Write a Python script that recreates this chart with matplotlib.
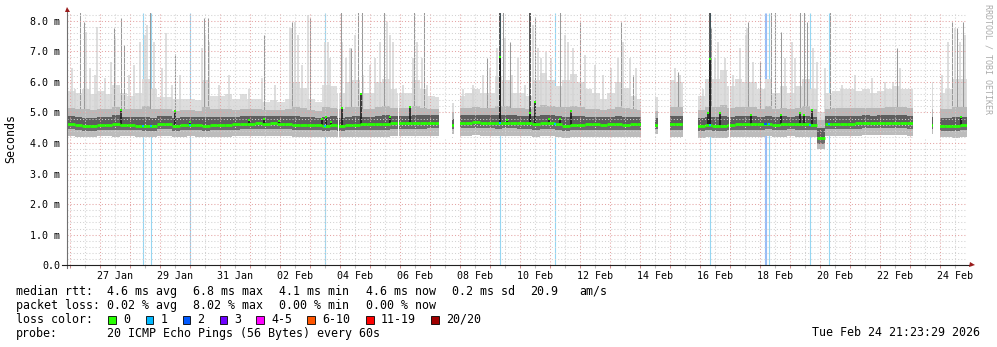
import numpy as np
import matplotlib
matplotlib.use("Agg")
import matplotlib.pyplot as plt
import matplotlib.dates as mdates
from matplotlib.patches import Rectangle
from matplotlib.ticker import MultipleLocator, FuncFormatter, NullFormatter
from datetime import datetime, date

plt.rcParams['font.family'] = ['DejaVu Sans Mono', 'DejaVu Sans']

nan = float('nan')

# ======== time frame: 30 days ending at the probe time ========
T_START = datetime(2026, 1, 25, 21, 23, 29)
SPAN_H = 720
BIN_H = 6          # smoke / median values are 6 h bins
Y_MAX = 8.24

# ======== median rtt per 6h bin (ms) ========
median_ms = [
    4.63, 4.60, 4.55, 4.56, 4.60, 4.60, 4.61, 4.60, 4.60, 4.57,
    4.55, 4.56, 4.63, 4.63, 4.55, 4.60, 4.60, 4.58, 4.56, 4.59,
    4.59, 4.59, 4.62, 4.63, 4.63, 4.64, 4.63, 4.64, 4.63, 4.63,
    4.59, 4.59, 4.59, 4.59, 4.57, 4.60, 4.56, 4.58, 4.58, 4.61,
    4.61, 4.61, 4.61, 4.64, 4.64, 4.64, 4.64, 4.65, 4.66, 4.66,
    nan, 4.60, 4.66, 4.66, 4.67, 4.66, 4.66, 4.65, 4.66, 4.66,
    4.65, 4.64, 4.62, 4.64, 4.64, 4.62, 4.57, 4.58, 4.60, 4.61,
    4.61, 4.60, 4.61, 4.61, 4.60, 4.61, 4.61, nan, 4.58, nan,
    4.61, 4.61, 4.61, nan, 4.57, 4.58, 4.56, 4.57, 4.60, 4.61,
    4.61, 4.61, 4.61, 4.62, 4.60, 4.61, 4.62, 4.61, 4.61, 4.60,
    4.15, 4.62, 4.63, 4.63, 4.63, 4.64, 4.65, 4.65, 4.66, 4.65,
    4.65, 4.65, 4.64, nan, nan, 4.60, 4.57, 4.57, 4.56, 4.58,
]

# ======== smoke levels per 6h bin (ms) ========
smoke_floor = [
    4.22, 4.21, 4.19, 4.20, 4.22, 4.22, 4.21, 4.22, 4.22, 4.20,
    4.19, 4.19, 4.23, 4.23, 4.18, 4.21, 4.22, 4.21, 4.20, 4.21,
    4.21, 4.21, 4.22, 4.23, 4.23, 4.23, 4.23, 4.23, 4.23, 4.23,
    4.20, 4.20, 4.21, 4.21, 4.18, 4.20, 4.18, 4.19, 4.19, 4.21,
    4.21, 4.21, 4.21, 4.23, 4.23, 4.23, 4.23, 4.24, 4.24, 4.24,
    nan, 4.30, 4.24, 4.24, 4.25, 4.24, 4.24, 4.23, 4.24, 4.24,
    4.23, 4.23, 4.21, 4.23, 4.23, 4.21, 4.17, 4.18, 4.20, 4.21,
    4.21, 4.20, 4.21, 4.21, 4.20, 4.21, 4.21, nan, 4.30, nan,
    4.21, 4.21, 4.21, nan, 4.17, 4.18, 4.16, 4.17, 4.20, 4.21,
    4.21, 4.21, 4.21, 4.22, 4.20, 4.21, 4.22, 4.21, 4.21, 4.20,
    3.80, 4.22, 4.23, 4.23, 4.23, 4.24, 4.25, 4.25, 4.26, 4.25,
    4.25, 4.25, 4.24, nan, nan, 4.30, 4.18, 4.18, 4.17, 4.19,
]
smoke_low = [
    4.45, 4.43, 4.39, 4.40, 4.43, 4.43, 4.44, 4.43, 4.43, 4.41,
    4.39, 4.40, 4.45, 4.45, 4.39, 4.43, 4.43, 4.42, 4.40, 4.42,
    4.42, 4.42, 4.44, 4.45, 4.45, 4.46, 4.45, 4.46, 4.45, 4.45,
    4.42, 4.42, 4.42, 4.42, 4.40, 4.43, 4.40, 4.41, 4.41, 4.44,
    4.44, 4.44, 4.44, 4.46, 4.46, 4.46, 4.46, 4.47, 4.48, 4.48,
    nan, 4.46, 4.48, 4.48, 4.49, 4.48, 4.48, 4.47, 4.48, 4.48,
    4.47, 4.46, 4.44, 4.46, 4.46, 4.44, 4.40, 4.41, 4.43, 4.44,
    4.44, 4.43, 4.44, 4.44, 4.43, 4.44, 4.44, nan, 4.45, nan,
    4.44, 4.44, 4.44, nan, 4.40, 4.41, 4.39, 4.40, 4.43, 4.44,
    4.44, 4.44, 4.44, 4.45, 4.43, 4.44, 4.45, 4.44, 4.44, 4.43,
    3.98, 4.45, 4.46, 4.46, 4.46, 4.47, 4.48, 4.48, 4.49, 4.48,
    4.48, 4.48, 4.47, nan, nan, 4.45, 4.40, 4.40, 4.39, 4.41,
]
smoke_dark = [
    4.88, 4.86, 4.82, 4.83, 4.86, 4.85, 4.90, 4.86, 4.85, 4.84,
    4.86, 4.83, 4.87, 4.87, 4.81, 4.85, 4.85, 4.84, 4.86, 4.84,
    4.84, 4.85, 4.86, 4.88, 4.87, 4.88, 4.87, 4.88, 4.87, 4.87,
    4.88, 4.86, 4.84, 4.83, 4.86, 4.87, 4.83, 4.86, 4.87, 4.86,
    4.86, 4.89, 4.90, 4.89, 4.89, 4.89, 4.91, 4.90, 4.90, 4.90,
    nan, 4.80, 4.90, 4.91, 4.92, 4.91, 4.91, 4.93, 4.92, 4.90,
    4.89, 4.88, 4.89, 4.92, 4.90, 4.88, 4.85, 4.88, 4.87, 4.86,
    4.86, 4.84, 4.86, 4.88, 4.86, 4.85, 4.85, nan, 4.82, nan,
    4.88, 4.87, 4.87, nan, 4.81, 4.85, 4.84, 4.88, 4.85, 4.87,
    4.87, 4.87, 4.86, 4.89, 4.85, 4.87, 4.86, 4.87, 4.89, 4.85,
    4.50, 4.87, 4.88, 4.88, 4.88, 4.89, 4.90, 4.89, 4.90, 4.90,
    4.91, 4.90, 4.89, nan, nan, 4.85, 4.82, 4.83, 4.86, 4.86,
]
smoke_grey = [
    5.15, 5.12, 5.10, 5.08, 5.12, 5.10, 5.18, 5.12, 5.10, 5.12,
    5.20, 5.12, 5.10, 5.10, 5.06, 5.08, 5.08, 5.06, 5.18, 5.10,
    5.10, 5.10, 5.08, 5.12, 5.10, 5.10, 5.08, 5.08, 5.08, 5.10,
    5.18, 5.14, 5.08, 5.06, 5.16, 5.15, 5.10, 5.16, 5.18, 5.12,
    5.12, 5.18, 5.20, 5.15, 5.14, 5.14, 5.20, 5.15, 5.12, 5.12,
    nan, 5.00, 5.14, 5.15, 5.16, 5.15, 5.15, 5.22, 5.20, 5.14,
    5.14, 5.12, 5.18, 5.25, 5.20, 5.16, 5.18, 5.22, 5.16, 5.12,
    5.12, 5.08, 5.12, 5.16, 5.14, 5.10, 5.08, nan, 5.05, nan,
    5.18, 5.16, 5.16, nan, 5.08, 5.18, 5.18, 5.25, 5.14, 5.18,
    5.16, 5.16, 5.12, 5.20, 5.10, 5.14, 5.12, 5.14, 5.20, 5.12,
    4.75, 5.12, 5.13, 5.14, 5.14, 5.14, 5.15, 5.14, 5.15, 5.16,
    5.18, 5.16, 5.15, nan, nan, 5.10, 5.10, 5.12, 5.18, 5.18,
]
smoke_top = [
    5.70, 5.65, 5.75, 5.60, 5.70, 5.60, 5.90, 5.65, 5.55, 5.65,
    6.10, 5.75, 5.50, 5.50, 5.45, 5.45, 5.45, 5.40, 6.05, 5.55,
    5.55, 5.60, 5.45, 5.60, 5.45, 5.45, 5.35, 5.40, 5.35, 5.45,
    6.00, 5.80, 5.45, 5.35, 5.90, 5.85, 5.65, 6.00, 6.05, 5.65,
    5.65, 6.00, 6.10, 5.75, 5.65, 5.65, 6.05, 5.75, 5.55, 5.50,
    nan, 5.30, 5.55, 5.65, 5.75, 5.65, 5.65, 6.20, 6.05, 5.65,
    5.65, 5.55, 6.05, 6.30, 6.05, 5.85, 6.05, 6.25, 6.00, 5.75,
    5.65, 5.45, 5.65, 6.00, 5.80, 5.55, 5.45, nan, 5.50, nan,
    6.05, 6.00, 6.00, nan, 5.55, 6.10, 6.10, 6.40, 5.85, 6.10,
    6.00, 6.00, 5.75, 6.10, 5.65, 5.85, 5.65, 5.85, 6.10, 5.75,
    5.00, 5.65, 5.70, 5.75, 5.75, 5.70, 5.75, 5.65, 5.70, 5.75,
    5.85, 5.75, 5.75, nan, nan, 6.00, 5.65, 5.75, 6.10, 6.10,
]

# ======== thin smoke columns: (hours since start, top ms) ========
light_cols = [
    (4.0, 6.44), (6.6, 5.78), (15.2, 7.64), (18.6, 6.44), (22.6, 6.22), (24.0, 7.80),
    (30.6, 6.11), (35.4, 6.66), (38.6, 7.42), (49.4, 6.22), (53.4, 6.55), (58.6, 7.31),
    (62.6, 7.53), (64.0, 7.86), (69.4, 7.31), (76.0, 6.44), (79.2, 7.60), (84.0, 5.89),
    (90.6, 6.22), (108.0, 7.09), (110.6, 7.53), (113.4, 7.31), (121.4, 5.89), (129.4, 6.22),
    (145.4, 5.78), (156.0, 6.11), (166.6, 5.89), (178.6, 7.75), (179.8, 7.75), (182.4, 7.97),
    (185.0, 7.53), (187.8, 6.55), (193.0, 8.18), (206.4, 7.31), (208.8, 7.31), (210.4, 6.77),
    (220.0, 7.31), (223.2, 6.77), (226.4, 7.09), (230.4, 7.53), (237.0, 6.22), (242.4, 6.55),
    (246.4, 6.77), (250.4, 7.31), (255.8, 7.97), (258.4, 7.53), (261.0, 7.31), (269.0, 5.89),
    (277.0, 6.77), (279.8, 7.31), (283.8, 6.77), (287.8, 5.89), (317.0, 5.78), (325.0, 5.89),
    (333.0, 6.22), (338.4, 6.44), (343.8, 7.09), (350.4, 7.42), (355.8, 6.22), (361.0, 6.77),
    (366.2, 5.89), (372.8, 7.86), (376.8, 7.09), (379.4, 6.77), (383.4, 6.98), (387.4, 6.77),
    (398.2, 7.53), (400.8, 7.31), (404.8, 7.09), (414.2, 6.87), (422.2, 6.55), (428.8, 6.22),
    (435.4, 6.44), (440.8, 6.77), (444.8, 7.31), (450.2, 6.77), (455.4, 6.44), (486.2, 6.44),
    (490.2, 6.22), (508.8, 5.78), (518.2, 6.77), (520.8, 7.31), (526.2, 6.77), (532.8, 6.22),
    (538.2, 7.09), (543.4, 7.53), (543.8, 7.75), (549.0, 6.66), (558.4, 5.78), (574.4, 6.77),
    (579.8, 7.31), (582.4, 6.77), (597.0, 7.09), (599.8, 6.66), (606.4, 6.44), (619.8, 5.89),
    (630.4, 6.22), (643.8, 6.11), (654.4, 6.00), (661.0, 6.00), (666.4, 6.44), (699.8, 6.22),
    (705.0, 7.31), (710.4, 7.75), (714.4, 7.31), (718.4, 7.53),
]
grey_cols = [
    (10.6, 8.30), (13.4, 7.97), (37.4, 7.75), (43.0, 8.10), (45.4, 7.20), (66.6, 8.30),
    (86.6, 6.90), (109.8, 8.07), (112.6, 8.07), (157.4, 7.53), (180.0, 7.97), (194.4, 8.10),
    (219.2, 8.30), (227.0, 7.09), (233.0, 8.30), (235.8, 8.30), (253.6, 8.30), (277.6, 8.30),
    (285.6, 8.30), (335.8, 6.77), (349.0, 8.30), (354.4, 7.31), (374.2, 8.13), (394.2, 8.30),
    (410.2, 7.97), (443.0, 7.97), (452.8, 6.22), (488.8, 6.33), (515.4, 7.75), (544.8, 7.97),
    (554.4, 6.66), (563.2, 8.30), (566.4, 8.30), (571.2, 7.64), (586.4, 8.30), (589.8, 8.30),
    (592.0, 7.97), (610.6, 8.30), (663.8, 7.09), (692.4, 7.20), (707.8, 7.97), (711.8, 7.75),
    (717.0, 7.97),
]
dark_cols = [(346.4, 8.30), (514.2, 8.30), (370.2, 8.30)]

# median peaks inside a bin: (hours, median ms)
median_peaks = [
    (43.0, 5.07), (86.4, 5.04), (98.2, 4.70), (145.8, 4.75), (157.8, 4.80), (169.8, 4.72),
    (203.8, 4.80), (207.2, 4.86), (211.0, 4.70), (219.8, 5.13), (235.0, 5.59), (258.4, 4.86),
    (274.4, 5.18), (346.4, 6.80), (352.2, 4.75), (370.2, 4.97), (374.2, 5.35), (385.6, 4.80),
    (394.2, 4.80), (403.4, 5.05), (512.8, 4.97), (514.2, 6.76), (522.2, 4.97), (547.2, 4.91),
    (571.2, 4.91), (586.4, 4.97), (589.4, 4.91), (595.8, 5.07), (715.0, 4.86),
]

# packet loss events: (hours, pings lost of 20)
loss_events = [
    (60.6, 1), (67.4, 1), (98.4, 1), (206.4, 1), (346.4, 1), (390.6, 1), (514.2, 1),
    (558.4, 2), (559.2, 2), (561.6, 1), (594.4, 1), (609.6, 1),
]

# periods without data: (start h, end h)
gaps_h = [
    (216.8, 218.0), (264.8, 266.0), (297.6, 308.0), (309.6, 314.4), (459.2, 470.4),
    (472.8, 482.4), (492.8, 504.8), (529.6, 530.4), (676.8, 692.0), (692.8, 698.4),
]

loss_names = ['0', '1', '2', '3', '4-5', '6-10', '11-19', '20/20']
loss_colors = ['#26ff00', '#00b8ff', '#0059ff', '#6e00ff', '#ff00ff', '#ff5500', '#ff0000', '#a00000']
loss_bar_colors = {1: '#94d6f2', 2: '#98bcf6'}

median_stats = ['4.6 ms avg', '6.8 ms max', '4.1 ms min', '4.6 ms now', '0.2 ms sd', '20.9', 'am/s']
loss_stats = ['0.02 % avg', '8.02 % max', '0.00 % min', '0.00 % now']
probe_text = '20 ICMP Echo Pings (56 Bytes) every 60s'
stamp_text = 'Tue Feb 24 21:23:29 2026'

T0NUM = mdates.date2num(T_START)


def tnum(h):
    return T0NUM + np.asarray(h, dtype=float) / 24.0


W, H = 997, 347
fig = plt.figure(figsize=(W / 100, H / 100), dpi=100)
fig.patch.set_facecolor('white')
ax = fig.add_axes([67 / W, (H - 265.3) / H, 900 / W, 252 / H])

n = len(median_ms)
x_left = tnum(np.arange(n) * BIN_H)
bw = BIN_H / 24.0
med = np.array(median_ms, float)


def band(lo, hi, color, z):
    lo = np.array(lo, float)
    hi = np.array(hi, float)
    ok = ~np.isnan(lo) & ~np.isnan(hi)
    ax.bar(x_left[ok], (hi - lo)[ok], bottom=lo[ok], width=bw, align='edge',
           color=color, linewidth=0, antialiased=False, zorder=z)


def med_at(h):
    return med[min(int(h // BIN_H), n - 1)]


# ======== loss bars (behind the smoke) ========
for h, lost in loss_events:
    ax.vlines(tnum(h), 0, Y_MAX, color=loss_bar_colors[lost], linewidth=0.8, zorder=0.9)

# ======== smoke ========
band(smoke_grey, smoke_top, '#dddddd', 1.0)
lc_h = [c[0] for c in light_cols]
ax.vlines(tnum(lc_h), [med_at(h) for h in lc_h], [c[1] for c in light_cols],
          color='#d4d4d4', linewidth=1.1, zorder=1.1)
gc_h = [c[0] for c in grey_cols]
ax.vlines(tnum(gc_h), [med_at(h) for h in gc_h], [c[1] for c in grey_cols],
          color='#999999', linewidth=0.75, zorder=1.2)
band(smoke_dark, smoke_grey, '#b9b9b9', 1.3)
band(med, smoke_dark, '#5e5e5e', 1.4)
band(smoke_low, med, '#6c6c6c', 1.4)
band(smoke_floor, smoke_low, '#bcbcbc', 1.4)

dc_h = [c[0] for c in dark_cols]
ax.vlines(tnum(dc_h), [med_at(h) for h in dc_h], [c[1] for c in dark_cols],
          color='#2a2a2a', linewidth=1.1, zorder=1.5)
pk_h = [p[0] for p in median_peaks]
pk_v = [p[1] for p in median_peaks]
ax.vlines(tnum(pk_h), [med_at(h) for h in pk_h], pk_v, color='#1a1a1a', linewidth=1.2, zorder=1.6)

# ======== empty periods ========
for a, b in gaps_h:
    ax.axvspan(tnum(a), tnum(b), color='white', linewidth=0, zorder=2.2)

# ======== median line (above grid) ========
ax.hlines(med, x_left, x_left + bw, color=loss_colors[0], linewidth=2.0, zorder=2.6,
          capstyle='butt')
ax.plot(tnum(pk_h), pk_v, linestyle='none', marker='s', markersize=2.0,
        markeredgewidth=0, color=loss_colors[0], zorder=2.65)
for h, lost in loss_events:
    ax.plot(tnum(h), med_at(h), linestyle='none', marker='s', markersize=2.0,
            markeredgewidth=0, color=loss_colors[lost], zorder=2.7)
# re-open the gaps over the median line
for a, b in gaps_h:
    ax.axvspan(tnum(a), tnum(b), ymin=0.5, ymax=0.6, color='white', linewidth=0, zorder=2.68)

# ======== axes, grid ========
ax.set_xlim(tnum(0), tnum(SPAN_H))
ax.set_ylim(0, Y_MAX)
for s in ax.spines.values():
    s.set_visible(False)
ax.set_axisbelow(False)

ax.xaxis.set_major_locator(mdates.DayLocator())
ax.xaxis.set_minor_locator(mdates.HourLocator(byhour=[12]))
ax.xaxis.set_major_formatter(NullFormatter())
first_label = date(2026, 1, 27)


def xlab(v, pos):
    d = mdates.num2date(v)
    if (d.date() - first_label).days % 2 == 0:
        return d.strftime('%d %b')
    return ''


ax.xaxis.set_minor_formatter(FuncFormatter(xlab))
ax.yaxis.set_major_locator(MultipleLocator(1.0))
ax.yaxis.set_minor_locator(MultipleLocator(0.2))
ax.yaxis.set_major_formatter(FuncFormatter(lambda v, p: '0.0' if abs(v) < 1e-9 else f'{v:.1f} m'))

ax.grid(True, which='major', color='#e4a4a4', linestyle=(0, (1, 2)), linewidth=0.75)
ax.grid(True, which='minor', color='#d2d2d2', linestyle=(0, (1, 2)), linewidth=0.75)
ax.tick_params(axis='x', which='major', length=1.8, color='#d08a8a', width=0.75)
ax.tick_params(axis='x', which='minor', length=1.8, color='#bdbdbd', width=0.75,
               pad=2.0, labelsize=7.2, labelcolor='#000000')
ax.tick_params(axis='y', which='major', length=0, pad=5.0, labelsize=7.2, labelcolor='#000000')
ax.tick_params(axis='y', which='minor', length=0)

# rrdtool style axes with arrow heads
ax.plot([0, 0], [-0.012, 1.01], transform=ax.transAxes, clip_on=False,
        color='#707070', linewidth=0.8, zorder=3)
ax.plot([-5 / 900, 1.004], [0, 0], transform=ax.transAxes, clip_on=False,
        color='#202020', linewidth=0.8, zorder=3)
ax.plot([0], [1.018], transform=ax.transAxes, clip_on=False, marker='^',
        markersize=3.6, color='#9a1c1c', markeredgewidth=0, zorder=3)
ax.plot([1.0055], [0], transform=ax.transAxes, clip_on=False, marker='>',
        markersize=3.6, color='#9a1c1c', markeredgewidth=0, zorder=3)

# ======== texts ========
FS = 8.4


def ftext(x, y, s, **kw):
    kw.setdefault('fontsize', FS)
    kw.setdefault('va', 'center')
    kw.setdefault('ha', 'left')
    fig.text(x / W, 1 - y / H, s, **kw)


ftext(11, 139, 'Seconds', rotation=90, ha='center')
ftext(987.5, 4, 'RRDTOOL / TOBI OETIKER', rotation=270, ha='center', va='top',
      fontsize=6.0, color='#ababab')

stat_x = [107, 193, 279, 366, 452, 530, 579]
ftext(16, 291.5, 'median rtt:')
for x, s in zip(stat_x, median_stats):
    ftext(x, 291.5, s)
ftext(16, 305.5, 'packet loss:')
for x, s in zip(stat_x, loss_stats):
    ftext(x, 305.5, s)

ftext(16, 319.5, 'loss color:')
box_x = [108, 145.5, 182.5, 219.5, 256, 307, 366, 431]
for bx, name, col in zip(box_x, loss_names, loss_colors):
    fig.patches.append(Rectangle((bx / W, 1 - 323.5 / H), 7.5 / W, 7.5 / H,
                                 transform=fig.transFigure, facecolor=col,
                                 edgecolor='#000000', linewidth=0.6))
    ftext(bx + 15, 319.5, name)

ftext(16, 333, 'probe:')
ftext(107, 333, probe_text)
ftext(980, 333, stamp_text, ha='right')

fig.savefig('out.png', dpi=100, facecolor='white')
